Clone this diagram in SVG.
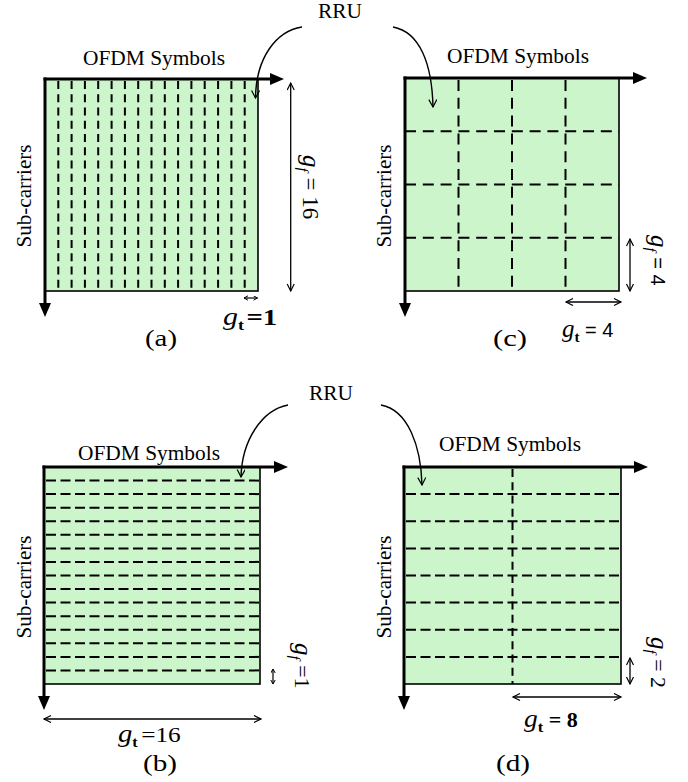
<svg xmlns="http://www.w3.org/2000/svg" width="688" height="782" viewBox="0 0 688 782">
<style>
.t{font-family:"Liberation Serif","Times New Roman",serif;fill:#000}
.s{font-family:"Liberation Sans",Arial,sans-serif}
.grid{fill:#ccf5cc;stroke:#000;stroke-width:1.6}
.axis{stroke:#000;stroke-width:3;fill:none}
.dv{stroke:#000;stroke-width:2;stroke-dasharray:8 5.25}
.dh{stroke:#000;stroke-width:2;stroke-dasharray:10 4.5}
.dc{stroke:#000;stroke-width:2;stroke-dasharray:11 6.8}
.dim{stroke:#000;stroke-width:1.3;fill:none;marker-start:url(#dh);marker-end:url(#dh)}
.dims{stroke:#000;stroke-width:1.2;fill:none;marker-start:url(#ds);marker-end:url(#ds)}
.curve{stroke:#000;stroke-width:1.4;fill:none;marker-end:url(#ch)}
</style>
<defs>
<marker id="ah" markerUnits="userSpaceOnUse" markerWidth="15" markerHeight="12" refX="0" refY="6" orient="auto"><path d="M0,0 L14,6 L0,12 z" fill="#000"/></marker>
<marker id="dh" markerUnits="userSpaceOnUse" markerWidth="10" markerHeight="10" refX="8" refY="4" orient="auto-start-reverse"><path d="M1,0.5 L8,4 L1,7.5" fill="none" stroke="#000" stroke-width="1.2"/></marker>
<marker id="ds" markerUnits="userSpaceOnUse" markerWidth="6" markerHeight="6" refX="4.5" refY="2.5" orient="auto-start-reverse"><path d="M0.5,0.3 L4.5,2.5 L0.5,4.7" fill="none" stroke="#000" stroke-width="1"/></marker>
<marker id="ch" markerUnits="userSpaceOnUse" markerWidth="10" markerHeight="10" refX="8" refY="4" orient="auto"><path d="M0.5,0 L8,4 L0.5,8" fill="none" stroke="#000" stroke-width="1.2"/></marker>
</defs>

<g id="panel-a">
<rect class="grid" x="45" y="79" width="213" height="212"/>
<line class="dv" x1="58.3" y1="81" x2="58.3" y2="291"/>
<line class="dv" x1="71.6" y1="81" x2="71.6" y2="291"/>
<line class="dv" x1="84.9" y1="81" x2="84.9" y2="291"/>
<line class="dv" x1="98.2" y1="81" x2="98.2" y2="291"/>
<line class="dv" x1="111.6" y1="81" x2="111.6" y2="291"/>
<line class="dv" x1="124.9" y1="81" x2="124.9" y2="291"/>
<line class="dv" x1="138.2" y1="81" x2="138.2" y2="291"/>
<line class="dv" x1="151.5" y1="81" x2="151.5" y2="291"/>
<line class="dv" x1="164.8" y1="81" x2="164.8" y2="291"/>
<line class="dv" x1="178.1" y1="81" x2="178.1" y2="291"/>
<line class="dv" x1="191.4" y1="81" x2="191.4" y2="291"/>
<line class="dv" x1="204.7" y1="81" x2="204.7" y2="291"/>
<line class="dv" x1="218.1" y1="81" x2="218.1" y2="291"/>
<line class="dv" x1="231.4" y1="81" x2="231.4" y2="291"/>
<line class="dv" x1="244.7" y1="81" x2="244.7" y2="291"/>
<line class="axis" x1="43.5" y1="79" x2="270" y2="79" marker-end="url(#ah)"/>
<line class="axis" x1="45" y1="77.5" x2="45" y2="303" marker-end="url(#ah)"/>
<text class="t" x="154" y="65" font-size="21" text-anchor="middle" textLength="142" lengthAdjust="spacingAndGlyphs">OFDM Symbols</text>
<text class="t" transform="translate(31,196) rotate(-90)" font-size="21" text-anchor="middle" textLength="103" lengthAdjust="spacingAndGlyphs">Sub-carriers</text>
<line class="dim" x1="290.7" y1="83" x2="290.7" y2="291"/>
<line class="dims" x1="244" y1="298" x2="257.5" y2="298"/>
<text class="t" transform="translate(303,155) rotate(90)" font-size="23"><tspan font-style="italic" font-size="25">g</tspan><tspan font-style="italic" font-size="15" dy="5">f</tspan><tspan dy="-5"> = 16</tspan></text>
<text class="t" transform="translate(223,325) scale(1.2,1)"><tspan font-style="italic" font-size="25">g</tspan><tspan font-weight="bold" font-size="15" dy="5">t</tspan><tspan font-weight="bold" font-size="24" dy="-5" dx="2">=1</tspan></text>
<text class="t" x="161" y="346" font-size="23" text-anchor="middle" textLength="32" lengthAdjust="spacingAndGlyphs">(a)</text>
</g>

<g id="panel-c">
<rect class="grid" x="405" y="78" width="214" height="213"/>
<line class="dc" x1="458.5" y1="80" x2="458.5" y2="291"/>
<line class="dc" x1="512" y1="80" x2="512" y2="291"/>
<line class="dc" x1="565.5" y1="80" x2="565.5" y2="291"/>
<line class="dc" x1="405" y1="131.3" x2="619" y2="131.3"/>
<line class="dc" x1="405" y1="184.5" x2="619" y2="184.5"/>
<line class="dc" x1="405" y1="237.8" x2="619" y2="237.8"/>
<line class="axis" x1="403.5" y1="78" x2="633" y2="78" marker-end="url(#ah)"/>
<line class="axis" x1="405" y1="76.5" x2="405" y2="303" marker-end="url(#ah)"/>
<text class="t" x="518" y="63" font-size="21" text-anchor="middle" textLength="142" lengthAdjust="spacingAndGlyphs">OFDM Symbols</text>
<text class="t" transform="translate(391,196) rotate(-90)" font-size="21" text-anchor="middle" textLength="103" lengthAdjust="spacingAndGlyphs">Sub-carriers</text>
<line class="dim" x1="630" y1="239" x2="630" y2="291"/>
<line class="dim" x1="566" y1="302" x2="621" y2="302"/>
<text class="t" transform="translate(651,235) rotate(90)" font-size="22"><tspan font-style="italic" font-size="25">g</tspan><tspan font-style="italic" font-size="15" dy="5">f</tspan><tspan class="s" font-size="20" dy="-5"> = 4</tspan></text>
<text class="t" transform="translate(562,337)"><tspan font-style="italic" font-size="25">g</tspan><tspan font-weight="bold" font-size="15" dy="5">t</tspan><tspan class="s" font-size="20" dy="-5"> = 4</tspan></text>
<text class="t" x="510" y="346" font-size="23" text-anchor="middle" textLength="34" lengthAdjust="spacingAndGlyphs">(c)</text>
</g>

<g id="panel-b">
<rect class="grid" x="44" y="467" width="216" height="217"/>
<line class="dh" x1="46" y1="480.6" x2="260" y2="480.6"/>
<line class="dh" x1="46" y1="494.1" x2="260" y2="494.1"/>
<line class="dh" x1="46" y1="507.7" x2="260" y2="507.7"/>
<line class="dh" x1="46" y1="521.2" x2="260" y2="521.2"/>
<line class="dh" x1="46" y1="534.8" x2="260" y2="534.8"/>
<line class="dh" x1="46" y1="548.4" x2="260" y2="548.4"/>
<line class="dh" x1="46" y1="561.9" x2="260" y2="561.9"/>
<line class="dh" x1="46" y1="575.5" x2="260" y2="575.5"/>
<line class="dh" x1="46" y1="589.1" x2="260" y2="589.1"/>
<line class="dh" x1="46" y1="602.6" x2="260" y2="602.6"/>
<line class="dh" x1="46" y1="616.2" x2="260" y2="616.2"/>
<line class="dh" x1="46" y1="629.7" x2="260" y2="629.7"/>
<line class="dh" x1="46" y1="643.3" x2="260" y2="643.3"/>
<line class="dh" x1="46" y1="656.9" x2="260" y2="656.9"/>
<line class="dh" x1="46" y1="670.4" x2="260" y2="670.4"/>
<line class="axis" x1="42.5" y1="467" x2="274" y2="467" marker-end="url(#ah)"/>
<line class="axis" x1="44" y1="465.5" x2="44" y2="696" marker-end="url(#ah)"/>
<text class="t" x="149" y="460" font-size="21" text-anchor="middle" textLength="142" lengthAdjust="spacingAndGlyphs">OFDM Symbols</text>
<text class="t" transform="translate(31,587) rotate(-90)" font-size="21" text-anchor="middle" textLength="103" lengthAdjust="spacingAndGlyphs">Sub-carriers</text>
<line class="dims" x1="273" y1="669" x2="273" y2="684"/>
<line class="dim" x1="44" y1="719" x2="261" y2="719"/>
<text class="t" transform="translate(295,643) rotate(90)" font-size="22"><tspan font-style="italic" font-size="25">g</tspan><tspan font-style="italic" font-size="15" dy="5">f</tspan><tspan dy="-5"> =1</tspan></text>
<text class="t" transform="translate(118,742) scale(1.15,1)"><tspan font-style="italic" font-size="25">g</tspan><tspan font-weight="bold" font-size="14" dy="5">t</tspan><tspan font-size="22" dy="-5" dx="3">=16</tspan></text>
<text class="t" x="160" y="771" font-size="23" text-anchor="middle" textLength="34" lengthAdjust="spacingAndGlyphs">(b)</text>
</g>

<g id="panel-d">
<rect class="grid" x="404" y="467" width="217" height="217"/>
<line class="dv" x1="512.5" y1="469" x2="512.5" y2="684"/>
<line class="dh" x1="406" y1="494.1" x2="621" y2="494.1"/>
<line class="dh" x1="406" y1="521.2" x2="621" y2="521.2"/>
<line class="dh" x1="406" y1="548.4" x2="621" y2="548.4"/>
<line class="dh" x1="406" y1="575.5" x2="621" y2="575.5"/>
<line class="dh" x1="406" y1="602.6" x2="621" y2="602.6"/>
<line class="dh" x1="406" y1="629.7" x2="621" y2="629.7"/>
<line class="dh" x1="406" y1="656.9" x2="621" y2="656.9"/>
<line class="axis" x1="402.5" y1="467" x2="634" y2="467" marker-end="url(#ah)"/>
<line class="axis" x1="404" y1="465.5" x2="404" y2="696" marker-end="url(#ah)"/>
<text class="t" x="510" y="451" font-size="21" text-anchor="middle" textLength="142" lengthAdjust="spacingAndGlyphs">OFDM Symbols</text>
<text class="t" transform="translate(391,587) rotate(-90)" font-size="21" text-anchor="middle" textLength="103" lengthAdjust="spacingAndGlyphs">Sub-carriers</text>
<line class="dim" x1="630" y1="658" x2="630" y2="684"/>
<line class="dim" x1="513" y1="697" x2="621" y2="697"/>
<text class="t" transform="translate(651,637) rotate(90)" font-size="22"><tspan font-style="italic" font-size="25">g</tspan><tspan font-style="italic" font-size="15" dy="5">f</tspan><tspan dy="-5"> = 2</tspan></text>
<text class="t" transform="translate(524,727) scale(1.1,1)"><tspan font-style="italic" font-size="25">g</tspan><tspan font-weight="bold" font-size="15" dy="5">t</tspan><tspan font-weight="bold" font-size="20" dy="-5"> = 8</tspan></text>
<text class="t" x="513" y="771" font-size="23" text-anchor="middle" textLength="34" lengthAdjust="spacingAndGlyphs">(d)</text>
</g>

<g id="rru-top">
<text class="t" x="340" y="18" font-size="21" text-anchor="middle" textLength="44" lengthAdjust="spacingAndGlyphs">RRU</text>
</g>
<g id="rru-bottom">
<text class="t" x="331" y="400" font-size="21" text-anchor="middle" textLength="44" lengthAdjust="spacingAndGlyphs">RRU</text>
</g>

<g id="connectors">
<path class="curve" d="M302,27 C276,31 256,58 255.5,98"/>
<path class="curve" d="M393,27 C420,32 432,64 433,107"/>
<path class="curve" d="M288,405 C262,410 242,440 241,477"/>
<path class="curve" d="M381,405 C408,410 421,446 422,485"/>
</g>
</svg>
